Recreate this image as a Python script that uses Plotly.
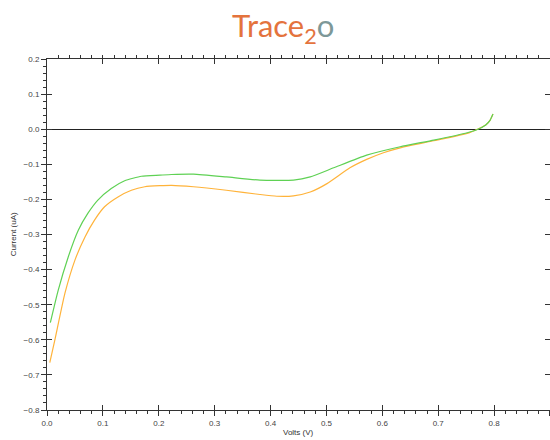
import plotly.graph_objects as go

# Series data
green_v = [0.006, 0.020, 0.038, 0.056, 0.073, 0.091, 0.115, 0.139, 0.169, 0.202, 0.223,
           0.262, 0.321, 0.381, 0.441, 0.471, 0.513, 0.572, 0.632, 0.692, 0.752,
           0.770, 0.785, 0.793, 0.798]
green_i = [-0.551, -0.459, -0.364, -0.288, -0.240, -0.202, -0.169, -0.147, -0.134, -0.131, -0.129,
           -0.128, -0.136, -0.145, -0.145, -0.136, -0.110, -0.074, -0.050, -0.031, -0.010,
           -0.001, 0.012, 0.026, 0.043]

orange_v = [0.005, 0.014, 0.032, 0.050, 0.068, 0.085, 0.103, 0.127, 0.151, 0.175, 0.202, 0.223,
            0.262, 0.321, 0.381, 0.411, 0.441, 0.471, 0.501, 0.542, 0.572, 0.602,
            0.632, 0.692, 0.752, 0.770, 0.785, 0.793, 0.798]
orange_i = [-0.665, -0.601, -0.468, -0.373, -0.307, -0.259, -0.221, -0.193, -0.174, -0.164, -0.161, -0.160,
            -0.164, -0.174, -0.186, -0.191, -0.190, -0.179, -0.155, -0.110, -0.086, -0.067,
            -0.053, -0.033, -0.012, 0.000, 0.012, 0.026, 0.043]

x_range = [0, 0.90001]
y_range = [-0.8, 0.2]

AX = "#333333"
FONT = "Liberation Sans"

fig = go.Figure()
fig.add_trace(go.Scatter(x=orange_v, y=orange_i, mode="lines",
                         line=dict(color="#FFB33A", width=1.2, shape="spline", smoothing=0.5),
                         showlegend=False, hoverinfo="skip"))
fig.add_trace(go.Scatter(x=green_v, y=green_i, mode="lines",
                         line=dict(color="#5FD154", width=1.2, shape="spline", smoothing=0.5),
                         showlegend=False, hoverinfo="skip"))

common_x = dict(range=x_range, dtick=0.1, tick0=0, showgrid=False, zeroline=False,
                automargin=False, tickcolor=AX, tickwidth=1, ticklen=5,
                minor=dict(dtick=0.02, ticklen=3, tickcolor=AX, tickwidth=1, showgrid=False))
common_y = dict(range=y_range, dtick=0.1, tick0=0, showgrid=False,
                automargin=False, tickcolor=AX, tickwidth=1, ticklen=5,
                minor=dict(dtick=0.02, ticklen=3, tickcolor=AX, tickwidth=1, showgrid=False))

fig.update_layout(
    width=550, height=440,
    margin=dict(l=47, r=0, t=59, b=30),
    paper_bgcolor="white", plot_bgcolor="white",
    font=dict(family=FONT, size=8, color="#333333"),
    xaxis=dict(**common_x, ticks="outside", showline=True, linecolor=AX, linewidth=1,
               tickformat=".1f", tickfont=dict(size=8, color="#444")),
    xaxis2=dict(**common_x, overlaying="x", anchor="y", side="bottom", ticks="inside",
                showticklabels=False, showline=False),
    xaxis3=dict(**common_x, overlaying="x", anchor="y", side="top", ticks="inside",
                showticklabels=False, showline=True, linecolor=AX, linewidth=1),
    yaxis=dict(**common_y, ticks="outside", showline=True, linecolor=AX, linewidth=1,
               zeroline=True, zerolinecolor="#222222", zerolinewidth=1.3,
               tickformat=".1f", tickfont=dict(size=8, color="#444")),
    yaxis2=dict(**common_y, overlaying="y", anchor="x", side="left", ticks="inside",
                showticklabels=False, showline=False, zeroline=False),
    yaxis3=dict(**common_y, overlaying="y", anchor="x", side="right", ticks="inside",
                showticklabels=False, showline=True, linecolor=AX, linewidth=1, zeroline=False),
    annotations=[
        dict(text="Trace<sub>2</sub><span style='color:#7D9898'>o</span>",
             xref="paper", yref="paper", x=0.469, y=1.09, xanchor="center", yanchor="middle",
             showarrow=False, font=dict(family="Lato", size=31, color="#E4733D")),
        dict(text="Volts (V)", xref="paper", yref="paper", x=0.5, y=-0.063,
             xanchor="center", yanchor="middle", showarrow=False,
             font=dict(size=8, color="#333")),
        dict(text="Current (uA)", xref="paper", yref="paper", x=-0.066, y=0.5, textangle=-90,
             xanchor="center", yanchor="middle", showarrow=False,
             font=dict(size=8, color="#333")),
    ],
)
# empty traces so the overlay axes are drawn
fig.add_trace(go.Scatter(x=[None], y=[None], xaxis="x2", yaxis="y2", showlegend=False))
fig.add_trace(go.Scatter(x=[None], y=[None], xaxis="x3", yaxis="y3", showlegend=False))

fig.write_html("out.html", config={"displayModeBar": False, "staticPlot": True},
               post_script="document.body.style.margin='0';document.body.style.overflow='hidden';")
